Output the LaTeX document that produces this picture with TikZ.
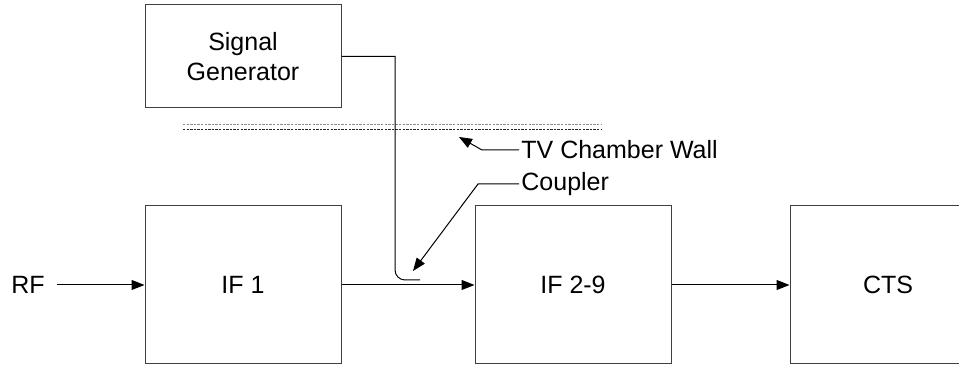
\documentclass[tikz,border=0pt]{standalone}
\usepackage{fontspec}
\setmainfont{Liberation Sans}
\usetikzlibrary{arrows.meta,positioning}
\tikzset{
  block/.style={draw=black!75, line width=0.5pt, minimum width=98pt, minimum height=79pt, inner sep=0pt, align=center},
  label/.style={inner sep=1pt, anchor=west},
  arrow/.style={-{Triangle[length=6.5pt,width=5pt]}, line width=0.5pt},
  wire/.style={line width=0.5pt},
  wall/.style={line width=0.4pt, dash pattern=on 1.2pt off 0.6pt}
}

\begin{document}
\begin{tikzpicture}[x=0.5pt, y=-0.5pt, font=\fontsize{12.5}{15}\selectfont]
  \useasboundingbox (0,0) rectangle (959,367);

  % blocks
  \node[block] (if1) at (243,285) {IF 1};
  \node[block, right=66.5pt of if1] (if29) {IF 2-9};
  \node[block, right=59pt of if29] (cts) {CTS};
  \node[block, minimum height=51.5pt] (siggen) at (243,56.5) {Signal\\Generator};
  \node[inner ysep=1pt, inner xsep=6pt] (rf) at (28,285) {RF};

  % chamber wall
  \coordinate (wallA) at (183,124);
  \coordinate (wallB) at (601,124);
  \coordinate (wallC) at (183,129);
  \coordinate (wallD) at (601,129);
  \draw[wall, draw=black!45] (wallA) -- (wallB);
  \draw[wall, draw=black!85] (wallC) -- (wallD);

  % labels
  \node[label] (walllbl) at (519,150) {TV Chamber Wall};
  \node[label] (cpllbl) at (519,184) {Coupler};
  \coordinate (walltip) at (459,137);
  \coordinate (cpltip) at (413,271);

  % signal path
  \draw[arrow] (rf) -- (if1);
  \draw[arrow] (if1) -- (if29);
  \draw[arrow] (if29) -- (cts);

  % coupled signal
  \draw[wire] (siggen.east) -- (395,56.5) [rounded corners=5pt] -- (395,280) -- (420,280);

  % leaders
  \draw[arrow] (walllbl.west) -- (482,150) -- (walltip);
  \draw[arrow] (cpllbl.west) -- (478,184) -- (cpltip);
\end{tikzpicture}
\end{document}
